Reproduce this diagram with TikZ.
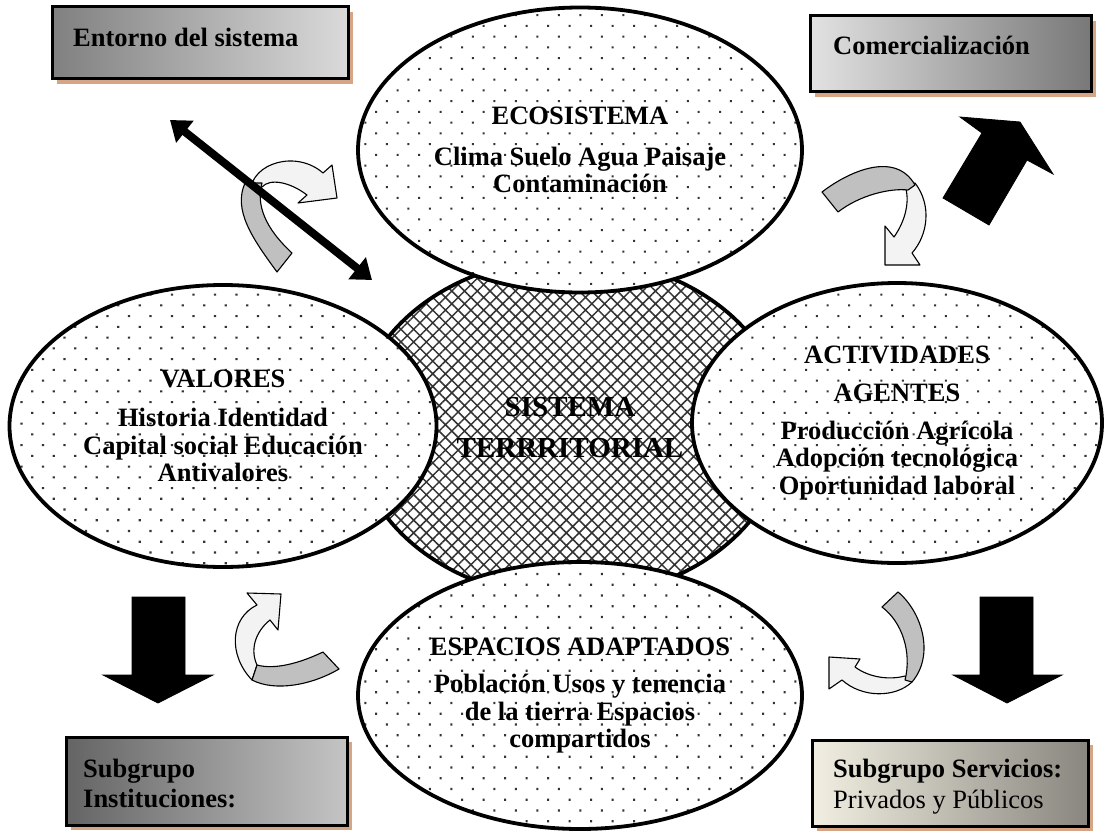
\documentclass[tikz,border=0pt]{standalone}
\usepackage{fontspec}
\setmainfont{Liberation Serif}
\usetikzlibrary{patterns.meta,shadows,arrows.meta,shapes.geometric}
\definecolor{shtan}{RGB}{212,166,134}
\definecolor{ribgray}{RGB}{192,192,192}
\definecolor{riblight}{RGB}{243,243,243}
\begin{document}
\begin{tikzpicture}[x=1pt,y=-1pt,
  bx/.style={draw=black, line width=3pt, inner sep=0pt,
    drop shadow={fill=shtan, opacity=1, shadow xshift=5pt, shadow yshift=-5pt}},
  lbl/.style={inner sep=0pt, anchor=base west, font=\fontsize{26.5pt}{28pt}\selectfont\bfseries},
  lblr/.style={inner sep=0pt, anchor=base west, font=\fontsize{26.5pt}{28pt}\selectfont},
  ell/.style={ellipse, draw=black, line width=3.8pt, inner sep=0pt, align=center,
    preaction={fill=white}, pattern={Dots[angle=45,distance=15.2pt,radius=1.5pt]},
    pattern color=black!80, font=\fontsize{26.5pt}{27.5pt}\selectfont\bfseries},
  rib/.style={draw=black, line width=1.1pt, line join=round},
  blk/.style={fill=black, draw=black, line width=0.8pt, line join=miter}
]
\useasboundingbox (0,0) rectangle (1105,832);

% boxes
\node[bx, left color={rgb,255:red,128;green,128;blue,128}, right color={rgb,255:red,218;green,218;blue,218},
  minimum width=296pt, minimum height=72pt] (ent) at (200,43) {};
\node[lbl] (entt) at (73,47) {Entorno del sistema};

\node[bx, left color={rgb,255:red,226;green,226;blue,226}, right color={rgb,255:red,120;green,120;blue,120},
  minimum width=281pt, minimum height=76pt] (com) at (950.5,54) {};
\node[lbl] (comt) at (833,55) {Comercialización};

\node[bx, left color={rgb,255:red,100;green,100;blue,100}, right color={rgb,255:red,196;green,196;blue,196},
  minimum width=281pt, minimum height=88pt] (ins) at (206.5,781) {};
\node[lbl] (inst1) at (83,777) {Subgrupo};
\node[lbl] (inst2) at (83,807) {Instituciones:};

\node[bx, left color={rgb,255:red,242;green,239;blue,226}, right color={rgb,255:red,136;green,134;blue,126},
  minimum width=276pt, minimum height=86pt] (ser) at (950,783) {};
\node[lbl] (ser1) at (833,777) {Subgrupo Servicios:};
\node[lblr] (ser2) at (833,808) {Privados y Públicos};

% central ellipse
\node[ellipse, draw=black, line width=3.8pt, inner sep=0pt, minimum width=430pt, minimum height=340pt,
  preaction={fill=white}, pattern={Hatch[angle=45,distance=9pt,line width=1.5pt]}, pattern color=black!80,
  align=center, font=\fontsize{29pt}{41pt}\selectfont\bfseries] (sis) at (570,428) {SISTEMA\\TERRRITORIAL};

% surrounding ellipses
\node[ell, minimum width=444pt, minimum height=285pt] (eco) at (580,150)
  {ECOSISTEMA\\[13pt]Clima Suelo Agua Paisaje\\Contaminación};
\node[ell, minimum width=427pt, minimum height=282pt] (val) at (223,426)
  {VALORES\\[12pt]Historia Identidad\\Capital social Educación\\Antivalores};
\node[ell, minimum width=410pt, minimum height=280pt] (act) at (897,423)
  {ACTIVIDADES\\[11pt]AGENTES\\[10pt]Producción Agrícola\\Adopción tecnológica\\Oportunidad laboral};
\node[ell, minimum width=444pt, minimum height=267pt] (esp) at (580,695.5)
  {ESPACIOS ADAPTADOS\\[10pt]Población Usos y tenencia\\de la tierra Espacios\\compartidos};

% curved ribbon arrows
% upper left
\filldraw[rib, fill=riblight] (250,192) .. controls (252,162) and (297,150) .. (323,173) -- (332,165) -- (337,198)
  -- (298,203) -- (307,195) .. controls (290,182) and (270,178) .. (262,187) -- cycle;
\filldraw[rib, fill=ribgray] (277,272) .. controls (252,238) and (233,210) .. (245,183) -- (262,183)
  .. controls (256,205) and (265,228) .. (292,253) -- cycle;
% upper right
\filldraw[rib, fill=riblight] (905,186) -- (915,183) .. controls (932,205) and (928,235) .. (912,253) -- (920,265)
  -- (885,265) -- (885,226) -- (894,237) .. controls (906,220) and (910,200) .. (905,186) -- cycle;
\filldraw[rib, fill=ribgray] (822,192) .. controls (848,172) and (895,150) .. (915,185) -- (908,190)
  .. controls (890,188) and (860,195) .. (838,212) -- cycle;
% lower left
\filldraw[rib, fill=riblight] (257,665) -- (252,680) .. controls (228,655) and (230,618) .. (257,605) -- (247,593)
  -- (281,594) -- (278,630) -- (270,620) .. controls (255,632) and (250,650) .. (257,665) -- cycle;
\filldraw[rib, fill=ribgray] (323,652) .. controls (300,663) and (275,670) .. (257,665) -- (252,680)
  .. controls (275,692) and (312,685) .. (339,669) -- cycle;
% lower right
\filldraw[rib, fill=riblight] (905,676) -- (912,682) .. controls (895,698) and (862,698) .. (842,680) -- (829,689)
  -- (829,657) -- (860,659) -- (855,667) .. controls (870,678) and (890,680) .. (905,676) -- cycle;
\filldraw[rib, fill=ribgray] (882,607) -- (898,592) .. controls (922,612) and (935,655) .. (912,682) -- (905,680)
  .. controls (912,652) and (902,622) .. (882,607) -- cycle;

% black block arrows
\filldraw[blk] (960,117) -- (1020,122) -- (1053,174) -- (1027,160) -- (989,225) -- (943,198) -- (982,133) -- cycle;
\filldraw[blk] (132,597) -- (185,597) -- (185,675) -- (213,675) -- (158,703) -- (103,675) -- (132,675) -- cycle;
\filldraw[blk] (980,597) -- (1033,597) -- (1033,675) -- (1062,675) -- (1007,703) -- (953,675) -- (980,675) -- cycle;

% double arrow
\coordinate (da1) at (170,120);
\coordinate (da2) at (372,280);
\draw[line width=8pt, {Triangle[length=19pt,width=27pt]}-{Triangle[length=19pt,width=27pt]}] (da1) -- (da2);
\end{tikzpicture}
\end{document}
